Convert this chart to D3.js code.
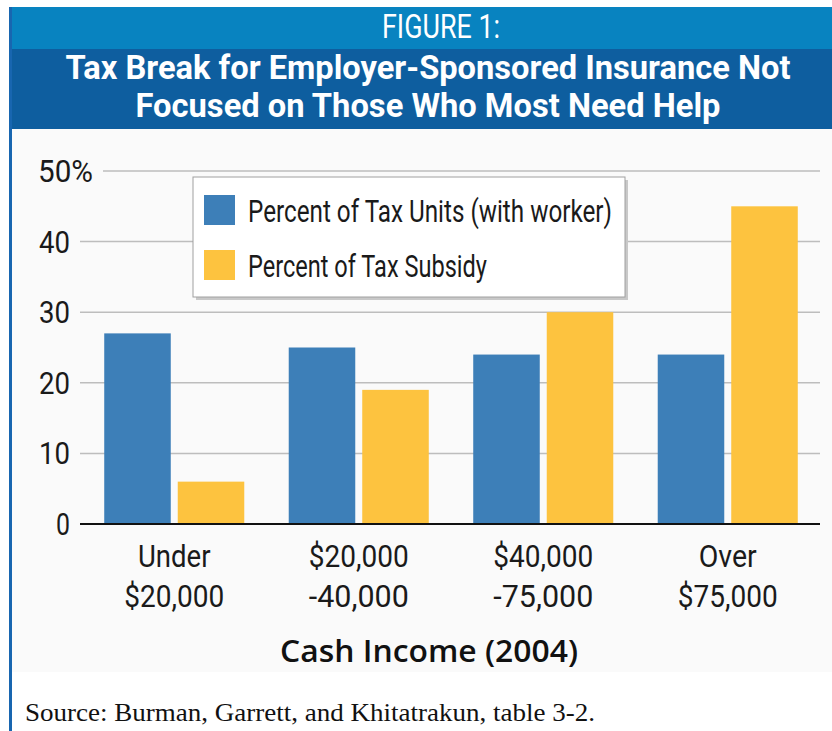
<!DOCTYPE html>
<head>
  <meta charset="utf-8">
  <script src="https://d3js.org/d3.v7.min.js"></script>
  <style>
    body { margin:0; background:#fff; }
    text { font-family: Roboto, "Open Sans", sans-serif; }
  </style>
</head>
<body>
<script>
  // data
  var categories = ["Under\n$20,000", "$20,000\n-40,000", "$40,000\n-75,000", "Over\n$75,000"];
  var seriesNames = ["Percent of Tax Units (with worker)", "Percent of Tax Subsidy"];
  var taxUnits = [27, 25, 24, 24];
  var taxSubsidy = [6, 19, 30, 45];
  var yTicks = [0, 10, 20, 30, 40, 50];
  var colors = ["#3d7fb8", "#fdc33f"];

  var W = 832, H = 731;
  var svg = d3.select("body").append("svg").attr("width", W).attr("height", H);

  // squeeze a text to a given width (source figure uses a condensed face)
  function fit(sel, w) {
    sel.attr("textLength", w).attr("lengthAdjust", "spacingAndGlyphs");
    return sel;
  }

  // header bands
  svg.append("rect").attr("x", 9).attr("y", 7).attr("width", W - 9).attr("height", 42).attr("fill", "#0883c0");
  svg.append("rect").attr("x", 9).attr("y", 49).attr("width", W - 9).attr("height", 80).attr("fill", "#0e5e9f");
  svg.append("rect").attr("x", 12).attr("y", 129).attr("width", W - 12).attr("height", 543).attr("fill", "#fafafa");
  svg.append("rect").attr("x", 9).attr("y", 7).attr("width", 3).attr("height", H).attr("fill", "#1866b0");

  fit(svg.append("text").attr("x", 441).attr("y", 38).attr("text-anchor", "middle")
    .attr("fill", "#fff").attr("font-size", 33).text("FIGURE 1:"), 118);
  fit(svg.append("text").attr("x", 428).attr("y", 79).attr("text-anchor", "middle")
    .attr("fill", "#fff").attr("font-size", 34).attr("font-weight", "bold")
    .text("Tax Break for Employer-Sponsored Insurance Not"), 725);
  fit(svg.append("text").attr("x", 428).attr("y", 117).attr("text-anchor", "middle")
    .attr("fill", "#fff").attr("font-size", 34).attr("font-weight", "bold")
    .text("Focused on Those Who Most Need Help"), 585);

  // scales
  var x0 = d3.scaleBand().domain(categories).range([82, 820]).paddingInner(0.241).paddingOuter(0.1205);
  var x1 = d3.scaleBand().domain(seriesNames).range([0, x0.bandwidth()]).paddingInner(0.095);
  var y = d3.scaleLinear().domain([0, 50]).range([524, 171]);

  // gridlines
  svg.append("g").selectAll("line").data(yTicks.filter(function(d) { return d > 0; })).enter().append("line")
    .attr("x1", function(d) { return d === 50 ? 103 : 80; })
    .attr("x2", 820)
    .attr("y1", function(d) { return y(d); })
    .attr("y2", function(d) { return y(d); })
    .attr("stroke", "#bdbdbd").attr("stroke-width", 1.5);

  // y tick labels (top one carries the % sign and hangs past the others)
  var yl = svg.append("g").selectAll("text").data(yTicks).enter().append("text")
    .attr("x", function(d) { return d === 50 ? 38 : 70; })
    .attr("y", function(d) { return y(d) + 11; })
    .attr("text-anchor", function(d) { return d === 50 ? "start" : "end"; })
    .attr("font-size", 31).attr("fill", "#1a1a1a")
    .text(function(d) { return d === 50 ? d + "%" : d; });
  yl.each(function(d) {
    fit(d3.select(this), d === 50 ? 55 : d < 10 ? 14 : 31);
  });

  // bars
  var groups = svg.append("g").selectAll("g").data(categories).enter().append("g")
    .attr("transform", function(d) { return "translate(" + x0(d) + ",0)"; });
  groups.selectAll("rect").data(function(d, i) {
      return [{ s: seriesNames[0], v: taxUnits[i] }, { s: seriesNames[1], v: taxSubsidy[i] }];
    }).enter().append("rect")
    .attr("x", function(d) { return x1(d.s); })
    .attr("width", x1.bandwidth())
    .attr("y", function(d) { return y(d.v); })
    .attr("height", function(d) { return y(0) - y(d.v); })
    .attr("fill", function(d, i) { return colors[i]; });

  // baseline
  svg.append("line").attr("x1", 80).attr("x2", 820).attr("y1", y(0)).attr("y2", y(0))
    .attr("stroke", "#111").attr("stroke-width", 2);

  // x labels
  var xl = svg.append("g").selectAll("text").data(categories).enter().append("text")
    .attr("text-anchor", "middle").attr("font-size", 32).attr("fill", "#1a1a1a");
  xl.each(function(d) {
    var t = d3.select(this), cx = x0(d) + x0.bandwidth() / 2;
    d.split("\n").forEach(function(line, j) {
      var w = line.length <= 5 ? line.length * 14.5 : 100;
      fit(t.append("tspan").attr("x", cx).attr("y", 567 + j * 40).text(line), w);
    });
  });

  fit(svg.append("text").attr("x", 429).attr("y", 662).attr("text-anchor", "middle")
    .attr("font-size", 30).attr("font-weight", 600).style("font-family", "'Open Sans', sans-serif").attr("fill", "#111")
    .text("Cash Income (2004)"), 298);

  // legend
  var lg = svg.append("g").attr("transform", "translate(193,177)");
  lg.append("rect").attr("x", 3).attr("y", 3).attr("width", 432).attr("height", 120).attr("fill", "#c8c8c8");
  lg.append("rect").attr("width", 432).attr("height", 120).attr("fill", "#fff").attr("stroke", "#a0a0a0");
  seriesNames.forEach(function(s, i) {
    lg.append("rect").attr("x", 11).attr("y", 18 + i * 55).attr("width", 31).attr("height", 30).attr("fill", colors[i]);
    fit(lg.append("text").attr("x", 55).attr("y", 45 + i * 55).attr("font-size", 31).attr("fill", "#1a1a1a").text(s),
      i === 0 ? 364 : 239);
  });

  // source
  fit(svg.append("text").attr("x", 25).attr("y", 721).attr("font-size", 26)
    .style("font-family", "'Liberation Serif', serif").attr("fill", "#111")
    .text("Source: Burman, Garrett, and Khitatrakun, table 3-2."), 570);
</script>
</body>
